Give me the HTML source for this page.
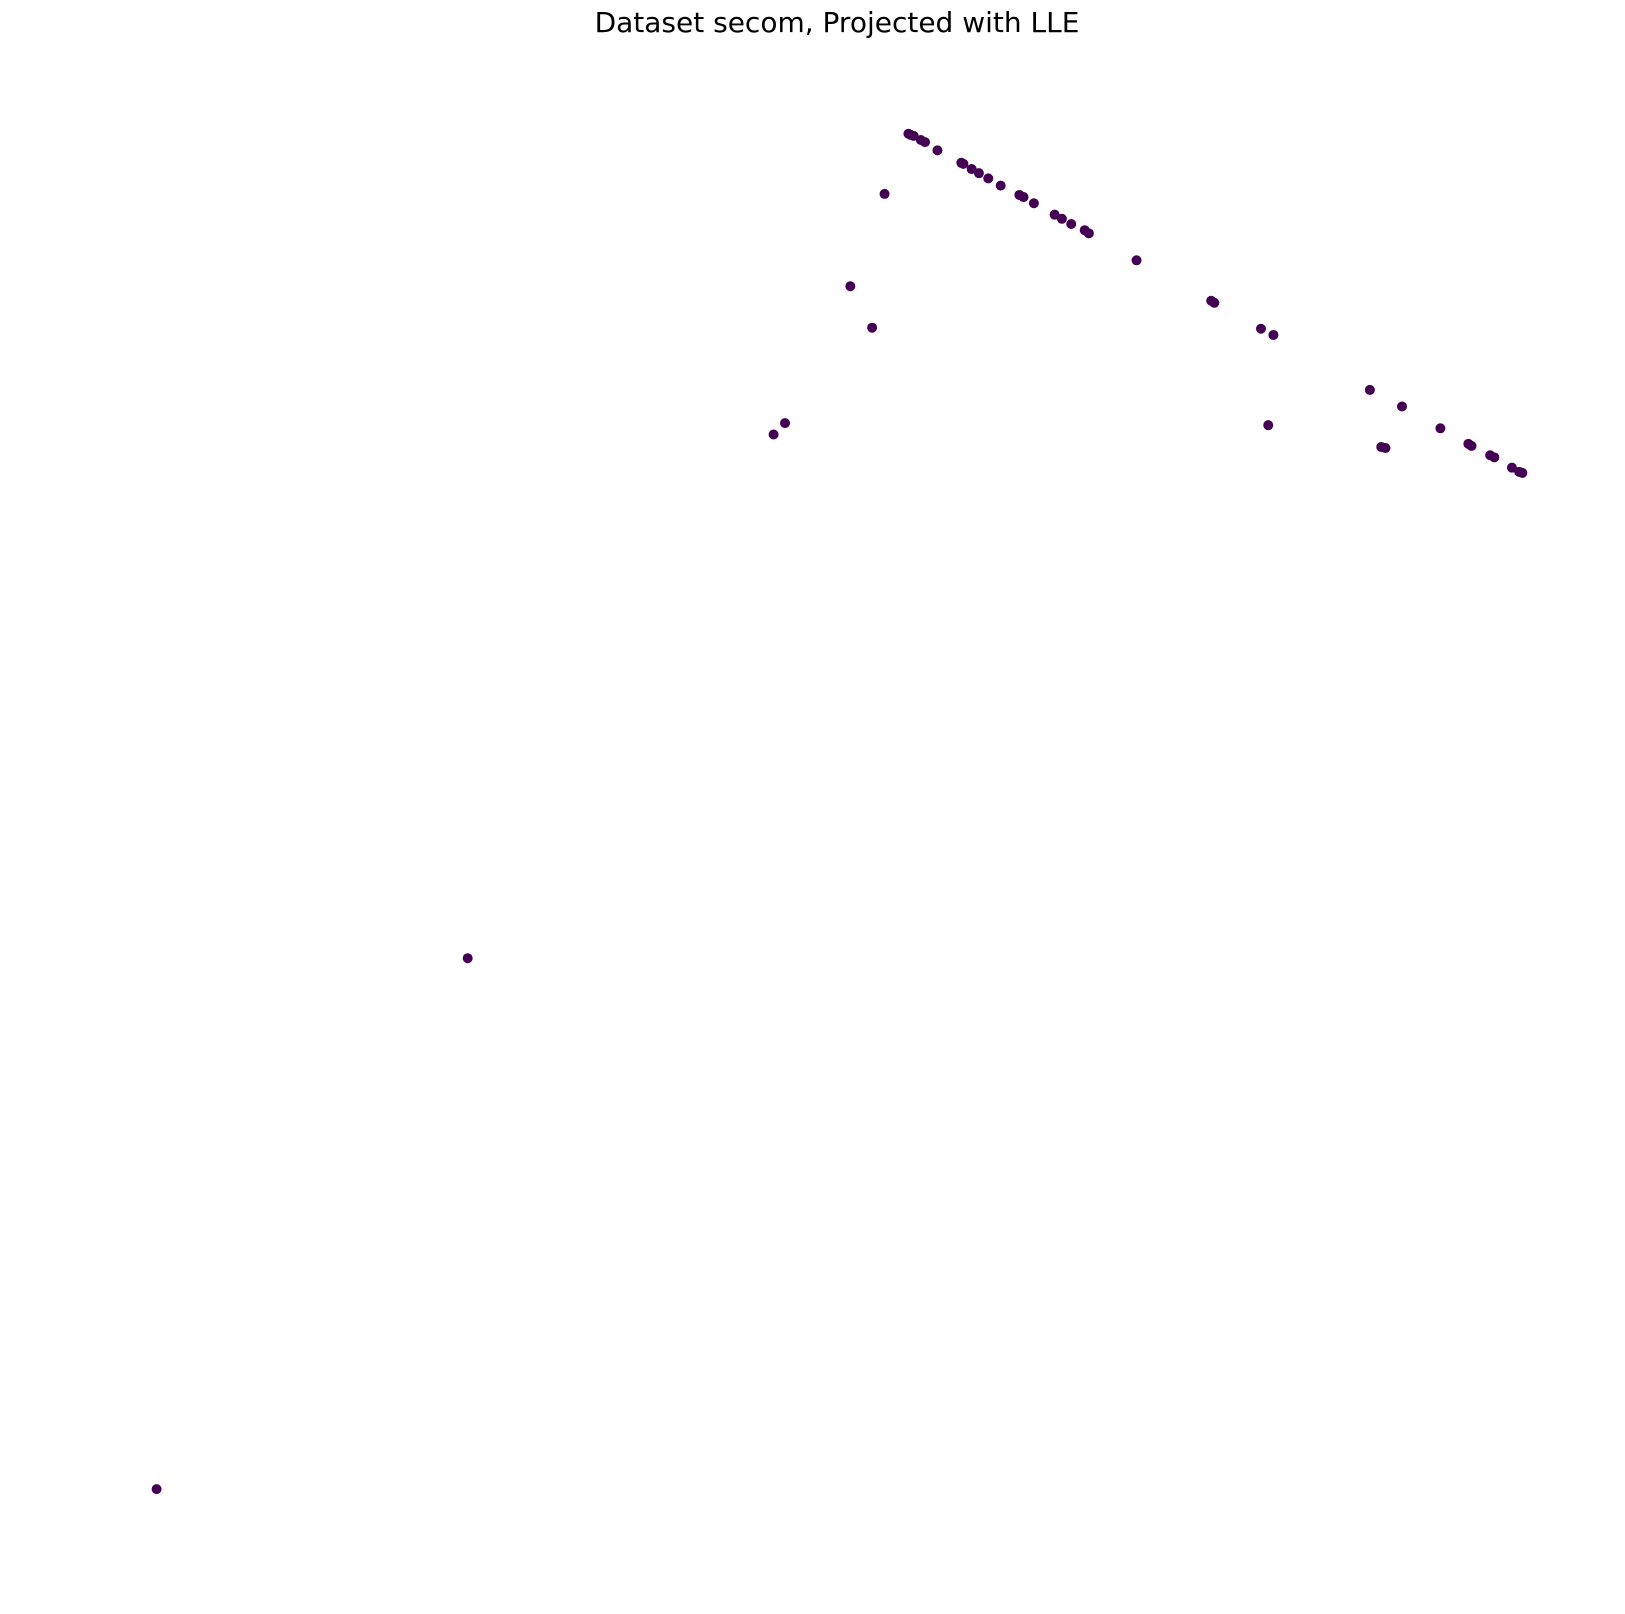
<!DOCTYPE html>
<html><head><meta charset="utf-8"><style>
body{margin:0;background:#fff}
svg{display:block}
</style></head><body>
<svg id="chart" width="1625" height="1614" xmlns="http://www.w3.org/2000/svg">
<text x="837" y="32" text-anchor="middle" font-family="DejaVu Sans, sans-serif" font-size="28" fill="#000">Dataset secom, Projected with LLE</text>
<g id="points"></g>
</svg>
<script>
const xVals=[87.6,87.8,88.1,88.8,89.2,90.4,92.7,92.9,93.7,94.4,95.3,96.5,98.3,98.7,99.7,101.7,102.4,103.3,104.6,105.0,85.3,109.6,116.8,117.1,121.6,122.8,82.0,84.1,75.7,74.6,122.3,132.1,135.2,138.9,141.6,141.9,143.7,144.1,145.8,146.5,146.8,133.2,133.6,45.1,15.1];
const yVals=[148.5,148.4,148.3,147.9,147.7,146.9,145.7,145.6,145.1,144.7,144.2,143.5,142.6,142.4,141.8,140.7,140.3,139.8,139.2,138.9,142.7,136.3,132.4,132.2,129.7,129.1,133.8,129.8,120.6,119.5,120.4,123.8,122.2,120.1,118.6,118.4,117.5,117.3,116.3,115.9,115.8,118.3,118.2,69.0,17.8];
const K=1.037;
const xs=v=>v*10*K;
const ys=v=>(1614-v*10)*K;
const g=document.getElementById('points');
for(let i=0;i<xVals.length;i++){
  const c=document.createElementNS('http://www.w3.org/2000/svg','circle');
  c.setAttribute('cx',xs(xVals[i]));
  c.setAttribute('cy',ys(yVals[i]));
  c.setAttribute('r',5);
  c.setAttribute('fill','#440154');
  
  
  g.appendChild(c);
}
</script>
</body></html>
